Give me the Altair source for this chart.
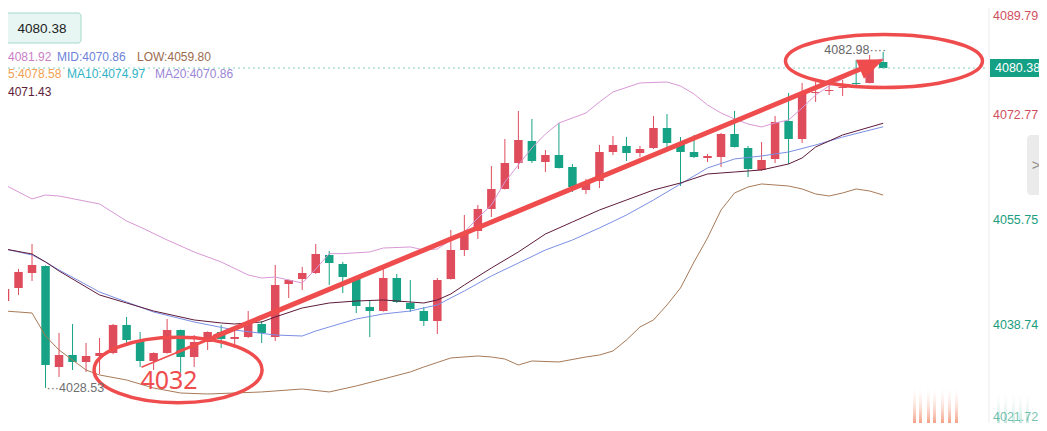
import altair as alt
import pandas as pd

# ---------------- data ----------------
opens = [4042.62, 4044.73, 4047.16, 4048.30, 4031.93, 4033.87, 4032.74, 4033.71, 4034.20, 4038.74,
         4036.30, 4032.90, 4034.20, 4037.92, 4033.55, 4035.98, 4037.60, 4036.47, 4036.79, 4038.90,
         4036.79, 4045.38, 4046.19, 4047.16, 4050.08, 4048.62, 4046.19, 4041.65, 4041.00, 4046.35,
         4042.30, 4041.00, 4039.38, 4046.19, 4050.89, 4053.97, 4057.54, 4060.78, 4064.99, 4068.56,
         4065.15, 4066.29, 4064.34, 4060.61, 4062.07, 4066.77, 4067.75, 4066.61, 4067.42, 4070.66,
         4068.23, 4066.77, 4065.80, 4065.96, 4069.69, 4067.42, 4063.86, 4065.64, 4071.80, 4068.88,
         4076.34, 4076.66, 4077.15, 4077.96, 4077.96, 4081.36]
highs = [4044.89, 4047.81, 4051.86, 4048.40, 4037.44, 4038.90, 4035.82, 4036.63, 4038.90, 4040.03,
         4037.60, 4034.30, 4039.71, 4038.00, 4037.11, 4037.70, 4038.74, 4037.92, 4041.00, 4039.38,
         4048.46, 4046.10, 4048.14, 4051.86, 4050.73, 4048.95, 4046.51, 4042.62, 4047.81, 4047.00,
         4046.03, 4041.65, 4046.35, 4054.13, 4056.56, 4058.18, 4064.50, 4068.88, 4073.42, 4072.12,
         4067.10, 4071.47, 4064.83, 4062.40, 4067.91, 4069.37, 4069.20, 4067.75, 4072.61, 4072.93,
         4069.20, 4069.53, 4066.45, 4069.85, 4073.42, 4067.75, 4068.39, 4072.61, 4076.34, 4077.96,
         4078.12, 4077.63, 4078.44, 4081.68, 4082.50, 4082.98]
lows = [4042.30, 4043.60, 4045.87, 4028.53, 4030.31, 4031.44, 4031.12, 4030.79, 4034.00, 4035.82,
        4031.93, 4031.44, 4034.10, 4030.96, 4031.93, 4034.68, 4035.01, 4035.01, 4036.63, 4035.82,
        4036.14, 4043.11, 4044.41, 4047.00, 4045.22, 4043.92, 4040.68, 4036.79, 4040.90, 4042.30,
        4040.84, 4038.57, 4037.28, 4046.10, 4049.92, 4052.67, 4056.24, 4060.70, 4064.02, 4064.99,
        4063.53, 4064.10, 4060.29, 4059.97, 4060.94, 4066.29, 4065.31, 4065.96, 4067.26, 4067.58,
        4061.26, 4065.80, 4065.15, 4064.34, 4067.50, 4062.72, 4063.69, 4064.99, 4064.83, 4068.23,
        4074.88, 4076.01, 4075.85, 4077.63, 4077.90, 4080.30]
closes = [4044.57, 4047.33, 4048.46, 4032.25, 4033.87, 4032.74, 4033.71, 4034.20, 4038.74, 4036.30,
          4032.90, 4034.20, 4037.92, 4033.55, 4035.98, 4037.60, 4036.47, 4036.79, 4039.22, 4037.44,
          4045.22, 4046.03, 4047.16, 4050.24, 4048.78, 4046.51, 4041.81, 4041.00, 4046.35, 4042.46,
          4041.33, 4039.38, 4046.03, 4050.89, 4053.65, 4057.54, 4060.78, 4064.99, 4068.72, 4065.31,
          4066.29, 4064.18, 4061.10, 4061.91, 4066.77, 4067.91, 4066.61, 4067.26, 4070.66, 4068.23,
          4066.77, 4065.96, 4066.12, 4069.69, 4067.58, 4064.02, 4065.48, 4071.64, 4068.88, 4076.34,
          4076.50, 4076.82, 4077.31, 4077.79, 4081.68, 4080.38]

# Bollinger upper band (candle index, value)
up_idx = [0, 2, 3, 4, 7, 9, 10, 12, 14, 16, 18, 19, 20, 21, 22, 23, 24, 25, 27, 28, 30, 31, 32, 33,
          34, 35, 36, 37, 38, 39, 40, 41, 43, 44, 45, 47, 49, 50, 51, 52, 53, 54, 55, 56, 57, 58,
          59, 60, 61, 62, 63, 64, 65]
up_val = [4061.42, 4059.16, 4059.80, 4059.64, 4058.35, 4055.59, 4054.62, 4052.51, 4050.57, 4048.95,
          4046.84, 4046.35, 4046.51, 4046.03, 4045.54, 4047.80, 4050.30, 4050.30, 4050.57, 4051.21,
          4051.38, 4050.89, 4051.05, 4052.51, 4053.81, 4056.08, 4058.18, 4061.91, 4064.67, 4067.42,
          4069.69, 4071.47, 4073.09, 4074.88, 4076.50, 4077.96, 4078.12, 4077.47, 4076.17, 4074.39,
          4073.09, 4072.12, 4071.31, 4070.83, 4071.47, 4071.96, 4073.90, 4076.01, 4077.47, 4078.60,
          4079.74, 4081.20, 4081.92]
# Bollinger middle band
mid_idx = [0, 2, 3, 4, 7, 9, 11, 14, 17, 20, 22, 23, 24, 26, 28, 30, 32, 34, 36, 38, 40, 42, 44,
           46, 48, 50, 52, 54, 56, 58, 60, 62, 65]
mid_val = [4051.05, 4050.08, 4048.95, 4047.65, 4044.08, 4042.46, 4040.84, 4039.22, 4037.92, 4037.11,
           4036.95, 4037.76, 4038.41, 4039.71, 4040.52, 4041.00, 4041.98, 4044.25, 4046.68, 4048.78,
           4050.89, 4052.51, 4054.46, 4056.56, 4058.99, 4061.59, 4064.18, 4065.64, 4066.13, 4066.77,
           4067.91, 4069.20, 4070.86]
# Bollinger lower band
low_idx = [0, 2, 3, 4, 6, 7, 9, 11, 13, 15, 17, 19, 22, 24, 26, 28, 30, 31, 33, 35, 36, 37, 38, 39,
           41, 43, 44, 45, 46, 47, 48, 49, 50, 51, 52, 53, 54, 55, 56, 58, 59, 60, 61, 62, 63, 64, 65]
low_val = [4041.00, 4040.68, 4036.95, 4034.68, 4031.44, 4030.63, 4029.82, 4028.52, 4027.71, 4027.55,
           4027.71, 4027.88, 4028.36, 4027.88, 4028.85, 4029.98, 4031.12, 4031.93, 4033.39, 4033.71,
           4033.55, 4033.22, 4032.25, 4032.90, 4032.74, 4033.55, 4033.87, 4034.52, 4036.30, 4038.41,
           4039.55, 4041.98, 4044.73, 4048.95, 4052.84, 4057.37, 4060.13, 4061.10, 4061.59, 4061.26,
           4060.78, 4059.97, 4059.64, 4060.13, 4060.78, 4060.45, 4059.80]
# dark moving-average line (4071.43)
ma_idx = [0, 2, 3, 4, 7, 9, 11, 14, 16, 17, 19, 20, 22, 24, 26, 28, 30, 31, 32, 33, 34, 36, 38, 40,
          42, 44, 46, 48, 50, 52, 54, 56, 58, 59, 60, 62, 65]
ma_val = [4051.05, 4050.24, 4048.95, 4047.49, 4043.60, 4042.30, 4041.00, 4039.55, 4039.06, 4038.90,
          4039.22, 4040.03, 4041.49, 4042.30, 4042.62, 4042.79, 4042.46, 4042.30, 4042.79, 4043.76,
          4045.22, 4047.97, 4050.57, 4053.48, 4055.43, 4057.37, 4058.99, 4060.61, 4061.75, 4063.21,
          4063.53, 4063.86, 4064.83, 4065.80, 4067.58, 4069.53, 4071.43]

axis_vals = [4089.79, 4072.77, 4055.75, 4038.74, 4021.72]
last_price = 4080.38
max_high = 4082.98
min_low = 4028.53
legend_up, legend_mid, legend_low = "4081.92", "MID:4070.86", "LOW:4059.80"
legend_ma5, legend_ma10, legend_ma20 = "5:4078.58", "MA10:4074.97", "MA20:4070.86"
legend_ma = "4071.43"
note_text = "4032"

# annotation geometry in data space (candle index, price)
arrow_i = [10.14, 12.73, 15.54, 63.73]
arrow_v = [4031.93, 4034.28, 4036.84, 4080.58]
arrow_w = [1.5, 3.0, 5.0]
head_i, head_v = 64.17, 4080.99
ell1_i, ell1_v = 12.81, 4031.44
ell2_i, ell2_v = 65.06, 4081.52
note_i, note_v = 12.14, 4029.66

# ---------------- styling ----------------
RED = "#df4d5c"
GREEN = "#16a284"
ARED = "#ef4c4e"
FONT = "Liberation Sans"
W, H = 980, 415

xs = alt.Scale(domain=[0.222, 72.76], nice=False, zero=False, padding=0)
ys = alt.Scale(domain=[4022.85, 4090.11], nice=False, zero=False, padding=0)


def X(f="i"):
    return alt.X(f"{f}:Q", scale=xs, axis=None)


def Y(f="v"):
    return alt.Y(f"{f}:Q", scale=ys, axis=None)


n = len(opens)
cdf = pd.DataFrame({"i": list(range(n)), "o": opens, "h": highs, "l": lows, "c": closes})
cdf["dir"] = ["up" if c >= o else "down" for o, c in zip(opens, closes)]
cdf["top"] = cdf[["o", "c"]].max(axis=1)
cdf["bot"] = cdf[["o", "c"]].min(axis=1)
col = alt.Color("dir:N", scale=alt.Scale(domain=["up", "down"], range=[RED, GREEN]), legend=None)

wicks = alt.Chart(cdf).mark_rule(strokeWidth=1, clip=True).encode(
    x=X(), y=Y("l"), y2="h:Q", color=col)
bodies = alt.Chart(cdf).mark_bar(size=8.5, clip=True).encode(
    x=X(), y=Y("bot"), y2="top:Q", color=col)


def series(idx, vals, color, width=1.0):
    d = pd.DataFrame({"i": idx, "v": vals})
    return alt.Chart(d).mark_line(color=color, strokeWidth=width, clip=True).encode(x=X(), y=Y())


l_up = series(up_idx, up_val, "#d898d6")
l_low = series(low_idx, low_val, "#a87a58")
l_mid = series(mid_idx, mid_val, "#7b8fe4")
l_ma = series(ma_idx, ma_val, "#5e1a3a")

# current price dashed line
pdf = pd.DataFrame({"v": [last_price]})
price_line = alt.Chart(pdf).mark_rule(color="#86cfbd", strokeDash=[2, 3], strokeWidth=1).encode(
    x=alt.value(0), x2=alt.value(W), y=Y())

# annotations: arrow
adf = pd.DataFrame({"i": arrow_i[:-1], "v": arrow_v[:-1], "i2": arrow_i[1:], "v2": arrow_v[1:], "w": arrow_w})
arrow = alt.Chart(adf).mark_rule(color=ARED, strokeCap="round").encode(
    x=X("i"), y=Y("v"), x2="i2:Q", y2="v2:Q", size=alt.Size("w:Q", scale=None, legend=None))
head = alt.Chart(pd.DataFrame({"i": [head_i], "v": [head_v]})).mark_point(
    shape="M 1,0 L -1,-0.8 L -1,0.8 Z", size=676, filled=True, color=ARED, opacity=1, angle=337.5
).encode(x=X(), y=Y())


def ellipse_path(r):
    k = 0.5523
    return (f"M -1,0 C -1,{-k*r:.4f} {-k:.4f},{-r:.4f} 0,{-r:.4f} "
            f"C {k:.4f},{-r:.4f} 1,{-k*r:.4f} 1,0 "
            f"C 1,{k*r:.4f} {k:.4f},{r:.4f} 0,{r:.4f} "
            f"C {-k:.4f},{r:.4f} -1,{k*r:.4f} -1,0 Z")


ell1 = alt.Chart(pd.DataFrame({"i": [ell1_i], "v": [ell1_v]})).mark_point(
    shape=ellipse_path(0.39), size=168 * 168, filled=False, color=ARED, strokeWidth=3.5, opacity=1
).encode(x=X(), y=Y())
ell2 = alt.Chart(pd.DataFrame({"i": [ell2_i], "v": [ell2_v]})).mark_point(
    shape=ellipse_path(0.27), size=197 * 197, filled=False, color=ARED, strokeWidth=3.5, opacity=1
).encode(x=X(), y=Y())

note = alt.Chart(pd.DataFrame({"i": [note_i], "v": [note_v], "t": [note_text]})).mark_text(
    font="Noto Sans", fontSize=25, color=ARED, align="center", baseline="middle"
).encode(x=X(), y=Y(), text="t:N")

hi_lbl = alt.Chart(pd.DataFrame({"i": [n - 1], "v": [max_high], "t": [f"{max_high:.2f}\u00b7\u00b7\u00b7\u00b7"]})).mark_text(
    font=FONT, fontSize=12.5, color="#666666", align="right", baseline="middle", dx=3, dy=-2
).encode(x=X(), y=Y(), text="t:N")
lo_lbl = alt.Chart(pd.DataFrame({"i": [3], "v": [min_low], "t": [f"\u00b7\u00b7\u00b7{min_low:.2f}"]})).mark_text(
    font=FONT, fontSize=12.5, color="#707070", align="left", baseline="middle", dx=1, dy=0
).encode(x=X(), y=Y(), text="t:N")


# right axis labels
def axis_color(v):
    return "#d04f5e" if v > 4060 else "#1a9d80"


axdf = pd.DataFrame({"v": axis_vals, "t": [f"{v:.2f}" for v in axis_vals],
                     "col": [axis_color(v) for v in axis_vals]})
ax_mid = alt.Chart(axdf.iloc[1:4]).mark_text(font=FONT, fontSize=12.5, align="left", baseline="middle").encode(
    x=alt.value(W + 5), y=Y(), text="t:N", color=alt.Color("col:N", scale=None))
ax_top = alt.Chart(axdf.iloc[0:1]).mark_text(font=FONT, fontSize=12.5, align="left", baseline="top").encode(
    x=alt.value(W + 5), y=Y(), text="t:N", color=alt.Color("col:N", scale=None))
ax_bot = alt.Chart(axdf.iloc[4:5]).mark_text(font=FONT, fontSize=12.5, align="left", baseline="middle", dy=-13,
                                             opacity=0.6).encode(
    x=alt.value(W + 5), y=Y(), text="t:N", color=alt.Color("col:N", scale=None))

# separators
one = pd.DataFrame({"a": [0]})
sep_v = alt.Chart(one).mark_rule(color="#ececec", strokeWidth=1).encode(
    x=alt.value(W + 1), y=alt.value(0), y2=alt.value(H))

# faint watermark stripes at the bottom right
wm_red = {"gradient": "linear", "x1": 0, "y1": 0, "x2": 0, "y2": 1,
          "stops": [{"offset": 0, "color": "rgba(255,255,255,0)"}, {"offset": 1, "color": "#f2896a"}]}
wm_green = {"gradient": "linear", "x1": 0, "y1": 0, "x2": 0, "y2": 1,
            "stops": [{"offset": 0, "color": "rgba(255,255,255,0)"}, {"offset": 1, "color": "#8ccfbd"}]}
wm_layers = []
for px in [905, 911, 919, 925, 933, 940, 947]:
    wm_layers.append(alt.Chart(one).mark_rect(fill=wm_red, opacity=0.8).encode(
        x=alt.value(px), x2=alt.value(px + 3), y=alt.value(377), y2=alt.value(415)))
for px in [989, 996, 1004, 1011, 1018]:
    wm_layers.append(alt.Chart(one).mark_rect(fill=wm_green, opacity=0.5).encode(
        x=alt.value(px), x2=alt.value(px + 3), y=alt.value(382), y2=alt.value(415)))

# price tag on the axis
tag_df = pd.DataFrame({"v": [last_price + 1.46], "v2": [last_price - 1.46]})
tag = alt.Chart(tag_df).mark_rect(color="#13a085").encode(
    x=alt.value(W + 2), x2=alt.value(W + 60), y=Y("v"), y2="v2:Q")
tag_txt = alt.Chart(pd.DataFrame({"v": [last_price], "t": [f"{last_price:.2f}"]})).mark_text(
    font=FONT, fontSize=12.5, color="white", align="left", baseline="middle").encode(
    x=alt.value(W + 7), y=Y(), text="t:N")

# side tab
tab = alt.Chart(one).mark_rect(color="#ebebeb", cornerRadius=4).encode(
    x=alt.value(W + 39), x2=alt.value(W + 64), y=alt.value(127), y2=alt.value(187))
tab_txt = alt.Chart(pd.DataFrame({"t": [">"]})).mark_text(
    font=FONT, fontSize=15, color="#8a8a8a", align="center", baseline="middle").encode(
    x=alt.value(W + 48), y=alt.value(157), text="t:N")

# top-left price box
box = alt.Chart(one).mark_rect(fill="#e7f6f2", stroke="#a3d9ca", strokeWidth=1, cornerRadius=3).encode(
    x=alt.value(-5), x2=alt.value(73), y=alt.value(5), y2=alt.value(35))
box_txt = alt.Chart(pd.DataFrame({"t": [f"{last_price:.2f}"]})).mark_text(
    font=FONT, fontSize=13.5, color="#222222", align="center", baseline="middle").encode(
    x=alt.value(34), y=alt.value(21), text="t:N")


def label(text, x, y, color, align="left"):
    return alt.Chart(pd.DataFrame({"t": [text]})).mark_text(
        font=FONT, fontSize=12, color=color, align=align, baseline="middle").encode(
        x=alt.value(x), y=alt.value(y), text="t:N")


legend = [
    label(legend_up, 0, 49, "#cb80c6"),
    label(legend_mid, 49, 49, "#6d82d8"),
    label(legend_low, 129, 49, "#9c6c4e"),
    label(legend_ma5, 0, 66, "#f2a050"),
    label(legend_ma10, 59, 66, "#30b2c6"),
    label(legend_ma20, 147, 66, "#9b85d6"),
    label(legend_ma, 0, 84, "#5e1d38"),
]

chart = alt.layer(
    sep_v, *wm_layers, wicks, bodies, l_up, l_low, l_mid, l_ma, price_line,
    arrow, head, ell1, ell2, note, hi_lbl, lo_lbl,
    ax_top, ax_mid, ax_bot, tag, tag_txt, tab, tab_txt, box, box_txt, *legend
).properties(
    width=W, height=H, background="white",
    padding={"left": 0, "top": 0, "right": 51, "bottom": 0},
    autosize=alt.AutoSizeParams(type="none"),
).configure_view(stroke=None)

chart.save("out.html", embed_options={"renderer": "svg", "actions": False})
